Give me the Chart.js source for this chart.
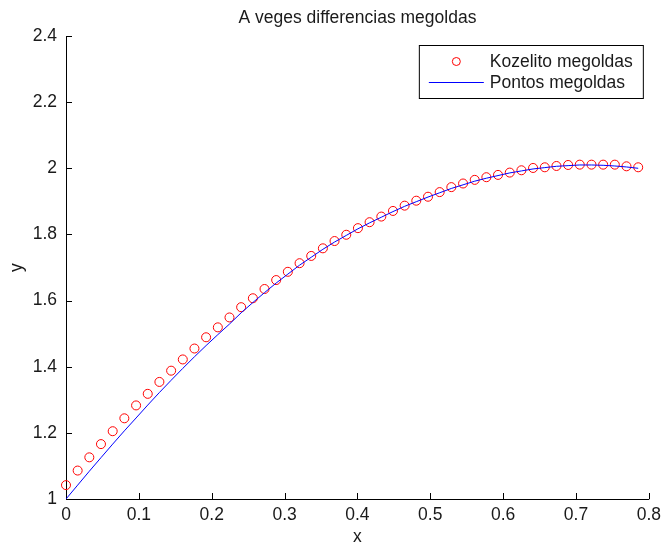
<!DOCTYPE html>
<html>
<head>
<meta charset="utf-8">
<script src="https://cdn.jsdelivr.net/npm/chart.js@4"></script>
<style>
body{margin:0;background:#fff}
</style>
</head>
<body>
<canvas id="stat1" width="667" height="548"></canvas>
<script>
var xVals = [0, 0.016, 0.032, 0.048, 0.0641, 0.0801, 0.0962, 0.1122, 0.1282, 0.1443,
    0.1603, 0.1763, 0.1923, 0.2084, 0.2244, 0.2404, 0.2565, 0.2725, 0.2885, 0.3045,
    0.3206, 0.3366, 0.3526, 0.3686, 0.3847, 0.4007, 0.4167, 0.4328, 0.4488, 0.4648,
    0.4808, 0.4969, 0.5129, 0.5289, 0.545, 0.561, 0.577, 0.593, 0.6091, 0.6251,
    0.6411, 0.6572, 0.6732, 0.6892, 0.7052, 0.7213, 0.7373, 0.7533, 0.7693, 0.7854];
var kozelito = [1.042, 1.086, 1.126, 1.166, 1.205, 1.244, 1.283, 1.318, 1.354, 1.388,
    1.422, 1.455, 1.489, 1.519, 1.549, 1.580, 1.607, 1.635, 1.662, 1.687,
    1.713, 1.735, 1.758, 1.780, 1.799, 1.819, 1.837, 1.854, 1.871, 1.887,
    1.902, 1.914, 1.928, 1.943, 1.954, 1.965, 1.973, 1.980, 1.987, 1.994,
    2.001, 2.003, 2.007, 2.010, 2.011, 2.011, 2.011, 2.011, 2.006, 2.003];
var pontos = [1.000, 1.042, 1.084, 1.125, 1.166, 1.206, 1.245, 1.284, 1.322, 1.359,
    1.395, 1.430, 1.464, 1.497, 1.529, 1.563, 1.594, 1.624, 1.653, 1.680,
    1.707, 1.731, 1.755, 1.777, 1.797, 1.817, 1.835, 1.852, 1.869, 1.885,
    1.899, 1.913, 1.926, 1.939, 1.950, 1.961, 1.970, 1.978, 1.986, 1.992,
    1.998, 2.002, 2.006, 2.008, 2.010, 2.010, 2.009, 2.007, 2.004, 2.000];
var xTicks = [0, 0.1, 0.2, 0.3, 0.4, 0.5, 0.6, 0.7, 0.8];
var yTicks = [1, 1.2, 1.4, 1.6, 1.8, 2, 2.2, 2.4];
var labels = ['Kozelito megoldas', 'Pontos megoldas'];

var font = '"Liberation Sans", Arial, sans-serif';
var fsize = 17.5;
var textColor = '#1a1a1a';

function pts(ys) {
    return xVals.map(function (x, i) { return {x: x, y: ys[i]}; });
}

// left + bottom axis with inward ticks, like matlab "box off"
var axesPlugin = {
    id: 'matlabAxes',
    beforeDatasetsDraw: function (chart) {
        var c = chart.ctx, a = chart.chartArea;
        var sx = chart.scales.x, sy = chart.scales.y;
        c.save();
        c.strokeStyle = '#000';
        c.lineWidth = 1;
        c.beginPath();
        c.moveTo(a.left + 0.5, a.top);
        c.lineTo(a.left + 0.5, a.bottom + 0.5);
        c.lineTo(a.right + 0.5, a.bottom + 0.5);
        sy.ticks.forEach(function (t) {
            var py = Math.round(sy.getPixelForValue(t.value)) + 0.5;
            c.moveTo(a.left, py);
            c.lineTo(a.left + 6, py);
        });
        sx.ticks.forEach(function (t) {
            var px = Math.round(sx.getPixelForValue(t.value)) + 0.5;
            c.moveTo(px, a.bottom);
            c.lineTo(px, a.bottom - 6);
        });
        c.stroke();
        c.restore();
    }
};

var legendPlugin = {
    id: 'boxLegend',
    afterDraw: function (chart) {
        var c = chart.ctx, a = chart.chartArea;
        var ds = chart.data.datasets;
        var right = a.right - 6, left = right - 224, top = 45, h = 53;
        c.save();
        c.fillStyle = '#fff';
        c.fillRect(left, top, right - left, h);
        c.strokeStyle = '#000';
        c.lineWidth = 1;
        c.strokeRect(left + 0.5, top + 0.5, right - left, h);
        c.font = fsize + 'px ' + font;
        c.fillStyle = textColor;
        c.textBaseline = 'middle';
        c.textAlign = 'left';
        // circles row
        c.strokeStyle = ds[1].borderColor;
        c.beginPath();
        c.arc(left + 37.5, top + 16.5, 4, 0, Math.PI * 2);
        c.stroke();
        c.fillText(ds[1].label, left + 71, top + 17);
        // line row
        c.strokeStyle = ds[0].borderColor;
        c.beginPath();
        c.moveTo(left + 10, top + 37.5);
        c.lineTo(left + 65, top + 37.5);
        c.stroke();
        c.fillText(ds[0].label, left + 71, top + 38);
        c.restore();
    }
};

var ctx = document.getElementById('stat1').getContext('2d');
var myChart = new Chart(ctx, {
    type: 'scatter',
    data: {
        datasets: [{
            label: labels[1],
            data: pts(pontos),
            showLine: true,
            borderColor: '#0000ff',
            borderWidth: 1,
            pointRadius: 0,
            pointHoverRadius: 0,
            tension: 0
        }, {
            label: labels[0],
            data: pts(kozelito),
            showLine: false,
            borderColor: '#ff0000',
            backgroundColor: 'rgba(0,0,0,0)',
            borderWidth: 1,
            pointRadius: 4.5,
            pointStyle: 'circle',
            clip: 8
        }]
    },
    options: {
        responsive: false,
        animation: false,
        layout: {padding: {right: 16, top: 0}},
        plugins: {
            legend: {display: false},
            tooltip: {enabled: false},
            title: {
                display: true,
                text: 'A veges differencias megoldas',
                fullSize: false,
                color: textColor,
                font: {family: font, size: fsize, weight: 'normal'},
                padding: {top: 8, bottom: 7}
            }
        },
        scales: {
            x: {
                type: 'linear',
                min: 0,
                max: 0.8,
                afterBuildTicks: function (s) { s.ticks = xTicks.map(function (v) { return {value: v}; }); },
                afterFit: function (s) { s.height = 49; },
                grid: {display: false, drawTicks: false},
                border: {display: false},
                ticks: {
                    color: textColor,
                    padding: 6,
                    maxRotation: 0,
                    font: {family: font, size: fsize},
                    callback: function (v) { return String(+v.toFixed(2)); }
                },
                title: {
                    display: true,
                    text: 'x',
                    color: textColor,
                    font: {family: font, size: fsize},
                    padding: {top: 0, bottom: 0}
                }
            },
            y: {
                type: 'linear',
                min: 1,
                max: 2.4,
                afterBuildTicks: function (s) { s.ticks = yTicks.map(function (v) { return {value: v}; }); },
                afterFit: function (s) { s.width = 66; },
                grid: {display: false, drawTicks: false},
                border: {display: false},
                ticks: {
                    color: textColor,
                    padding: 9,
                    font: {family: font, size: fsize},
                    callback: function (v) { return String(+v.toFixed(2)); }
                },
                title: {
                    display: true,
                    text: 'y',
                    color: textColor,
                    font: {family: font, size: fsize},
                    padding: {top: 7, bottom: 0}
                }
            }
        }
    },
    plugins: [axesPlugin, legendPlugin]
});
</script>
</body>
</html>
